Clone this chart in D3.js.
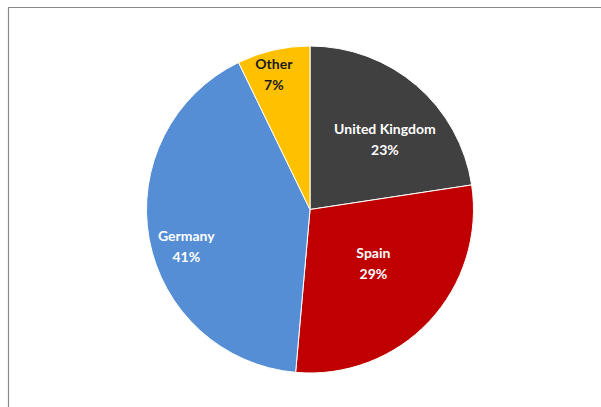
<!DOCTYPE html>
<html><head><meta charset="utf-8">
<script src="https://cdn.jsdelivr.net/npm/d3@7"></script>
<style>body{margin:0;background:#fff}svg{display:block}</style>
</head><body>
<svg id="c" width="601" height="407"></svg>
<script>
const categories = ["United Kingdom", "Spain", "Germany", "Other"];
const values = [22.6, 28.8, 41.4, 7.2];
const colors = ["#404040", "#C00000", "#558ED5", "#FFC000"];
const textColors = ["#ffffff", "#ffffff", "#ffffff", "#1a1a1a"];

const svg = d3.select("#c");
// frame
svg.append("path").attr("d", "M8.5,407 V7.5 H601").attr("fill", "none")
  .attr("stroke", "#8a8a8a").attr("stroke-width", 1.2);

const cx = 310, cy = 209.5, R = 163.5;
const g = svg.append("g").attr("transform", `translate(${cx},${cy})`);
const pie = d3.pie().sort(null).value(d => d)(values);
const arc = d3.arc().innerRadius(0).outerRadius(R);
g.selectAll("path.s").data(pie).enter().append("path")
  .attr("class", "s").attr("d", arc)
  .attr("fill", (d, i) => colors[i]).attr("stroke", "#fff").attr("stroke-width", 1);

// label placement (radius in px, angle shift in degrees relative to slice mid-angle)
const labelR = [103, 83, 129, 140];
const labelShift = [6, -3, -6, -2];
pie.forEach((d, i) => {
  const a = (d.startAngle + d.endAngle) / 2 + labelShift[i] * Math.PI / 180;
  const x = Math.sin(a) * labelR[i], y = -Math.cos(a) * labelR[i];
  const t = g.append("text").attr("text-anchor", "middle")
    .attr("font-family", "Lato, 'Open Sans', sans-serif").attr("font-weight", "bold")
    .attr("font-size", 14).attr("fill", textColors[i]);
  t.append("tspan").attr("x", x).attr("y", y - 5).text(categories[i]);
  t.append("tspan").attr("x", x).attr("y", y + 16).text(Math.round(values[i]) + "%");
});
</script>
</body></html>
